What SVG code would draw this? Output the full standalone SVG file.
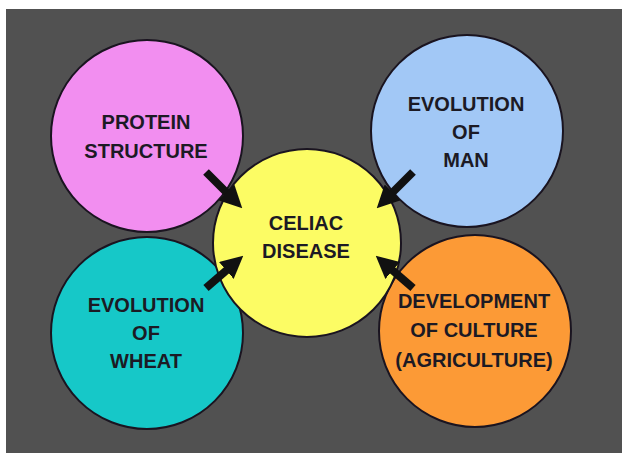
<svg xmlns="http://www.w3.org/2000/svg" width="622" height="453" viewBox="0 0 622 453">
<defs>
<marker id="ah" viewBox="0 0 10 10" refX="1" refY="5" markerWidth="2.8" markerHeight="2.8" orient="auto" markerUnits="strokeWidth">
<path d="M0,0 L10,5 L0,10 Z" fill="#111"/>
</marker>
<style>
.c{stroke:#1a1420;stroke-width:2}
.t{font-family:"Liberation Sans",Arial,sans-serif;font-weight:bold;font-size:20px;fill:#1c1a24;text-anchor:middle}
.a{stroke:#111;stroke-width:8;fill:none;marker-end:url(#ah)}
</style>
</defs>
<rect x="0" y="0" width="622" height="453" fill="#ffffff"/>
<rect x="6" y="9" width="616" height="444" fill="#515151"/>
<g id="protein">
<circle class="c" cx="147" cy="136" r="96" fill="#f28ef0"/>
<text class="t" x="146" y="129">PROTEIN</text>
<text class="t" x="146" y="158">STRUCTURE</text>
</g>
<g id="man">
<circle class="c" cx="467" cy="131" r="96" fill="#a2c8f6"/>
<text class="t" x="466" y="111">EVOLUTION</text>
<text class="t" x="466" y="139">OF</text>
<text class="t" x="466" y="167">MAN</text>
</g>
<g id="wheat">
<circle class="c" cx="147" cy="333" r="96" fill="#16c8c8"/>
<text class="t" x="146" y="312">EVOLUTION</text>
<text class="t" x="146" y="340">OF</text>
<text class="t" x="146" y="368">WHEAT</text>
</g>
<g id="culture">
<circle class="c" cx="475" cy="331" r="96" fill="#fc9a36"/>
<text class="t" x="474" y="308">DEVELOPMENT</text>
<text class="t" x="474" y="337">OF CULTURE</text>
<text class="t" x="474" y="367">(AGRICULTURE)</text>
</g>
<g id="celiac">
<circle class="c" cx="307" cy="243" r="94" fill="#fcfc64"/>
<text class="t" x="306" y="230">CELIAC</text>
<text class="t" x="306" y="258">DISEASE</text>
</g>
<g id="connectors">
<line class="a" x1="206" y1="172" x2="228" y2="194"/>
<line class="a" x1="413" y1="172" x2="391" y2="194"/>
<line class="a" x1="206" y1="288" x2="228" y2="269"/>
<line class="a" x1="413" y1="288" x2="391" y2="269"/>
</g>
</svg>
